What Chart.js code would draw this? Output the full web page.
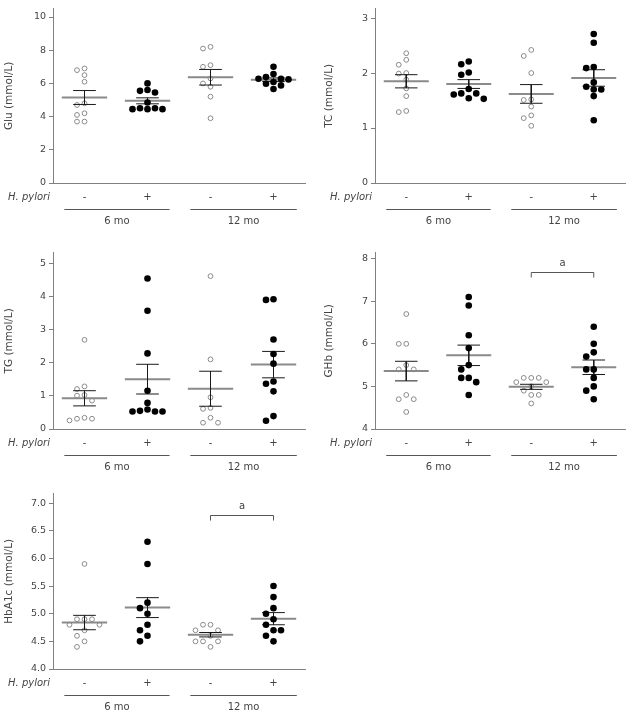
<!DOCTYPE html>
<html><head><meta charset="utf-8">
<script src="https://cdn.jsdelivr.net/npm/chart.js@4.4.1/dist/chart.umd.min.js"></script>
<style>
html,body{margin:0;padding:0;background:#ffffff;}
#wrap{position:relative;width:631px;height:716px;overflow:hidden;background:#fff;}
canvas{position:absolute;}
</style></head><body>
<div id="wrap">
<canvas id="pGlu" width="310" height="228" style="left:0px;top:0px"></canvas>
<canvas id="pTC" width="310" height="228" style="left:320px;top:0px"></canvas>
<canvas id="pTG" width="310" height="230" style="left:0px;top:244px"></canvas>
<canvas id="pGHb" width="310" height="230" style="left:320px;top:244px"></canvas>
<canvas id="pHbA1c" width="310" height="229" style="left:0px;top:485px"></canvas>
</div>
<script>
// ================= DATA =================
const hpStatus = ['-', '+', '-', '+'];      // H. pylori status of each group
const periods = ['6 mo', '12 mo'];

// Glu (mmol/L)
const glu6Neg  = [6.9, 6.8, 6.5, 6.1, 4.8, 4.7, 4.2, 4.1, 3.7, 3.7];
const glu6Pos  = [6.0, 5.6, 5.55, 5.45, 4.85, 4.5, 4.5, 4.45, 4.45, 4.45];
const glu12Neg = [8.2, 8.1, 7.1, 7.0, 6.3, 6.0, 5.8, 5.2, 3.9];
const glu12Pos = [7.0, 6.57, 6.38, 6.28, 6.28, 6.24, 6.08, 5.98, 5.88, 5.66];
const gluMean  = [5.15, 4.95, 6.37, 6.22];
const gluSem   = [0.42, 0.18, 0.47, 0.11];
const gluTicks = [0, 2, 4, 6, 8, 10];

// TC (mmol/L)
const tc6Neg  = [2.36, 2.24, 2.15, 2.0, 1.99, 1.88, 1.72, 1.58, 1.31, 1.29];
const tc6Pos  = [2.21, 2.16, 2.01, 1.97, 1.71, 1.63, 1.63, 1.61, 1.54, 1.53];
const tc12Neg = [2.42, 2.31, 2.0, 1.52, 1.51, 1.39, 1.23, 1.18, 1.04];
const tc12Pos = [2.71, 2.55, 2.11, 2.09, 1.83, 1.75, 1.70, 1.70, 1.58, 1.14];
const tcMean  = [1.85, 1.80, 1.62, 1.91];
const tcSem   = [0.12, 0.08, 0.17, 0.15];
const tcTicks = [0, 1, 2, 3];

// TG (mmol/L)
const tg6Neg  = [2.7, 1.29, 1.21, 1.03, 1.01, 0.86, 0.34, 0.31, 0.31, 0.26];
const tg6Pos  = [4.56, 3.58, 2.29, 1.16, 0.79, 0.59, 0.55, 0.53, 0.53, 0.53];
const tg12Neg = [4.63, 2.11, 0.96, 0.64, 0.61, 0.34, 0.19, 0.19];
const tg12Pos = [3.93, 3.91, 2.71, 2.27, 1.98, 1.44, 1.37, 1.14, 0.39, 0.25];
const tgMean  = [0.93, 1.51, 1.22, 1.95];
const tgSem   = [0.23, 0.45, 0.53, 0.40];
const tgTicks = [0, 1, 2, 3, 4, 5];

// GHb (mmol/L)
const ghb6Neg  = [6.7, 6.0, 6.0, 5.5, 5.4, 5.4, 4.8, 4.7, 4.7, 4.4];
const ghb6Pos  = [7.1, 6.9, 6.2, 5.9, 5.5, 5.4, 5.2, 5.2, 5.1, 4.8];
const ghb12Neg = [5.2, 5.2, 5.2, 5.1, 5.1, 5.0, 4.9, 4.8, 4.8, 4.6];
const ghb12Pos = [6.4, 6.0, 5.8, 5.7, 5.4, 5.4, 5.2, 5.0, 4.9, 4.7];
const ghbMean  = [5.36, 5.73, 4.99, 5.45];
const ghbSem   = [0.23, 0.24, 0.06, 0.17];
const ghbTicks = [4, 5, 6, 7, 8];
const ghbSigPair = [3, 4];
const ghbSigLevel = 7.69;
const ghbSigLabel = 'a';

// HbA1c (mmol/L)
const hb6Neg  = [5.9, 4.9, 4.9, 4.9, 4.8, 4.8, 4.7, 4.6, 4.5, 4.4];
const hb6Pos  = [6.3, 5.9, 5.2, 5.1, 5.0, 4.8, 4.7, 4.6, 4.5];
const hb12Neg = [4.8, 4.8, 4.7, 4.7, 4.6, 4.5, 4.5, 4.5, 4.4];
const hb12Pos = [5.5, 5.3, 5.1, 5.0, 4.9, 4.8, 4.7, 4.7, 4.6, 4.5];
const hbMean  = [4.84, 5.11, 4.62, 4.91];
const hbSem   = [0.13, 0.18, 0.04, 0.11];
const hbTicks = [4.0, 4.5, 5.0, 5.5, 6.0, 6.5, 7.0];
const hbTickLabels = ['4.0', '4.5', '5.0', '5.5', '6.0', '6.5', '7.0'];
const hbSigPair = [3, 4];
const hbSigLevel = 6.79;
const hbSigLabel = 'a';

// ================= STYLE / LAYOUT =================
const FONT = '"DejaVu Sans", Verdana, sans-serif';
const TXT = '#444444';
const AXIS = '#808080';
const CENTERS = [1, 2, 3, 4];
const MEAN_HALF = 0.36, CAP_HALF = 0.18;
const SLOT_PX = 7.5, MIN_GAP_PX = 6.5;
const PERIOD_SPANS = [[0.68, 2.35], [2.68, 4.37]];

const annotPlugin = {
  id: 'annot',
  afterDraw(chart) {
    const p = chart.options.plugins.annot;
    const {ctx, chartArea} = chart;
    const xs = chart.scales.x, ys = chart.scales.y;
    const B = chartArea.bottom;
    ctx.save();
    ctx.fillStyle = TXT;
    ctx.font = 'italic 10px ' + FONT;
    ctx.textAlign = 'right';
    ctx.textBaseline = 'middle';
    ctx.fillText('H. pylori', chartArea.left - 3, B + 14);
    ctx.strokeStyle = '#555';
    ctx.lineWidth = 1;
    ctx.font = '10px ' + FONT;
    ctx.textAlign = 'center';
    PERIOD_SPANS.forEach((sp, i) => {
      const a = xs.getPixelForValue(sp[0]), b = xs.getPixelForValue(sp[1]);
      ctx.beginPath();
      ctx.moveTo(a, B + 26.5); ctx.lineTo(b, B + 26.5);
      ctx.stroke();
      ctx.fillText(periods[i], (a + b) / 2, B + 38);
    });
    if (p.sigPair) {
      const x1 = xs.getPixelForValue(p.sigPair[0]), x2 = xs.getPixelForValue(p.sigPair[1]);
      const yt = Math.round(ys.getPixelForValue(p.sigLevel)) + 0.5;
      ctx.beginPath();
      ctx.moveTo(x1, yt + 5); ctx.lineTo(x1, yt); ctx.lineTo(x2, yt); ctx.lineTo(x2, yt + 5);
      ctx.stroke();
      ctx.fillText(p.sigLabel, (x1 + x2) / 2, yt - 9);
    }
    ctx.restore();
  }
};

function swarm(chart, values, center) {
  const xs = chart.scales.x, ys = chart.scales.y;
  const unitPx = xs.getPixelForValue(1) - xs.getPixelForValue(0);
  const step = SLOT_PX / unitPx;
  const order = values.map((v, i) => i).sort((a, b) => values[b] - values[a]);
  const placed = [];
  const out = new Array(values.length);
  const slots = [0, -1, 1, -2, 2, -3, 3, -4, 4];
  order.forEach(i => {
    const py = ys.getPixelForValue(values[i]);
    for (const s of slots) {
      if (!placed.some(q => q.s === s && Math.abs(q.py - py) < MIN_GAP_PX)) {
        placed.push({s, py});
        out[i] = {x: center + s * step, y: values[i]};
        break;
      }
    }
  });
  return out;
}

function makePanel(id, p) {
  const canvas = document.getElementById(id);
  const meanData = [], semData = [];
  p.mean.forEach((m, i) => {
    const c = CENTERS[i], s = p.sem[i];
    meanData.push({x: c - MEAN_HALF, y: m}, {x: c + MEAN_HALF, y: m}, {x: c, y: null});
    semData.push({x: c - CAP_HALF, y: m + s}, {x: c + CAP_HALF, y: m + s}, {x: c, y: null},
                 {x: c, y: m + s}, {x: c, y: m - s}, {x: c, y: null},
                 {x: c - CAP_HALF, y: m - s}, {x: c + CAP_HALF, y: m - s}, {x: c, y: null});
  });
  const init = (arr, c) => arr.map(v => ({x: c, y: v}));
  const labels = p.tickLabels || p.ticks.map(String);
  const chart = new Chart(canvas, {
    type: 'scatter',
    data: {datasets: [
      {label: 'H. pylori +', data: [...init(p.series[1], 2), ...init(p.series[3], 4)],
       pointRadius: 3.3, pointBackgroundColor: '#000', pointBorderColor: '#000', pointBorderWidth: 0, showLine: false},
      {label: 'SEM', data: semData, showLine: true, borderColor: '#1a1a1a', borderWidth: 1, pointRadius: 0, spanGaps: false},
      {label: 'Mean', data: meanData, showLine: true, borderColor: '#8a8a8a', borderWidth: 2, pointRadius: 0, spanGaps: false},
      {label: 'H. pylori -', data: [...init(p.series[0], 1), ...init(p.series[2], 3)],
       pointRadius: 2.4, pointBackgroundColor: '#fff', pointBorderColor: '#8a8a8a', pointBorderWidth: 1, showLine: false}
    ]},
    options: {
      responsive: false, animation: false, devicePixelRatio: 1, events: [],
      layout: {padding: {top: 7, right: 5, left: 0, bottom: 0}},
      plugins: {legend: {display: false}, tooltip: {enabled: false},
                annot: {sigPair: p.sigPair, sigLevel: p.sigLevel, sigLabel: p.sigLabel}},
      scales: {
        x: {type: 'linear', min: 0.5, max: 4.5,
            grid: {display: false, drawTicks: false},
            border: {display: true, color: AXIS, width: 1},
            afterBuildTicks: s => { s.ticks = CENTERS.map(v => ({value: v})); },
            ticks: {autoSkip: false, maxRotation: 0, padding: 8, color: TXT,
                    font: {family: FONT, size: 10}, callback: (v, i) => hpStatus[i]},
            afterFit: s => { s.height = 45; }},
        y: {type: 'linear', min: p.yMin, max: p.yMax,
            grid: {display: true, drawOnChartArea: false, drawTicks: true, tickLength: 4, color: AXIS},
            border: {display: true, color: AXIS, width: 1},
            afterBuildTicks: s => { s.ticks = p.ticks.map(v => ({value: v})); },
            ticks: {autoSkip: false, padding: 3, color: TXT, font: {family: FONT, size: 9.5},
                    callback: v => { const k = p.ticks.indexOf(v); return k >= 0 ? labels[k] : ''; }},
            title: {display: true, text: p.title, color: TXT, font: {family: FONT, size: 10.5}, padding: {top: 3, bottom: 0}},
            afterFit: s => { s.width = p.axisW; }}
      }
    },
    plugins: [annotPlugin]
  });
  chart.data.datasets[0].data = [...swarm(chart, p.series[1], 2), ...swarm(chart, p.series[3], 4)];
  chart.data.datasets[3].data = [...swarm(chart, p.series[0], 1), ...swarm(chart, p.series[2], 3)];
  chart.update('none');
  return chart;
}

makePanel('pGlu', {title: 'Glu (mmol/L)', series: [glu6Neg, glu6Pos, glu12Neg, glu12Pos],
  mean: gluMean, sem: gluSem, ticks: gluTicks, yMin: 0, yMax: 10.5, axisW: 53});
makePanel('pTC', {title: 'TC (mmol/L)', series: [tc6Neg, tc6Pos, tc12Neg, tc12Pos],
  mean: tcMean, sem: tcSem, ticks: tcTicks, yMin: 0, yMax: 3.17, axisW: 55});
makePanel('pTG', {title: 'TG (mmol/L)', series: [tg6Neg, tg6Pos, tg12Neg, tg12Pos],
  mean: tgMean, sem: tgSem, ticks: tgTicks, yMin: 0, yMax: 5.34, axisW: 53});
makePanel('pGHb', {title: 'GHb (mmol/L)', series: [ghb6Neg, ghb6Pos, ghb12Neg, ghb12Pos],
  mean: ghbMean, sem: ghbSem, ticks: ghbTicks, yMin: 4, yMax: 8.14, axisW: 55,
  sigPair: ghbSigPair, sigLevel: ghbSigLevel, sigLabel: ghbSigLabel});
makePanel('pHbA1c', {title: 'HbA1c (mmol/L)', series: [hb6Neg, hb6Pos, hb12Neg, hb12Pos],
  mean: hbMean, sem: hbSem, ticks: hbTicks, tickLabels: hbTickLabels, yMin: 4, yMax: 7.17, axisW: 53,
  sigPair: hbSigPair, sigLevel: hbSigLevel, sigLabel: hbSigLabel});
</script>
</body></html>
